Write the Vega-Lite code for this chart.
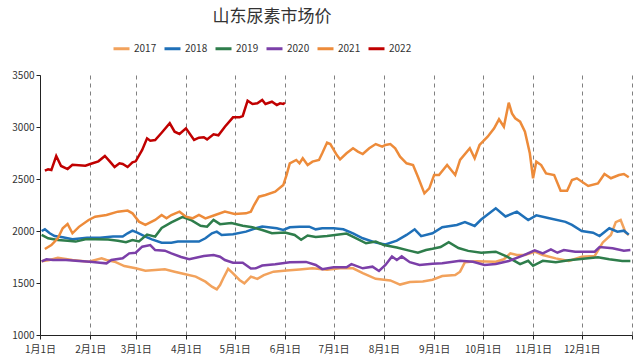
{
"$schema": "https://vega.github.io/schema/vega-lite/v6.json",
"width": 592, "height": 260,
"autosize": {"type": "none"},
"padding": {"left": 40, "top": 75, "right": 8, "bottom": 29},
"background": "white",
"config": {"font": "Noto Sans CJK SC", "view": {"stroke": null}},
"title": {"text": "山东尿素市场价", "anchor": "middle", "frame": "group", "dx": -64, "offset": 13, "fontSize": 17, "fontWeight": "normal", "color": "#333333", "font": "Noto Sans CJK SC"},
"data": {"values": [
{"year":"2017","date":"2022/01/02","price":1710},{"year":"2017","date":"2022/01/07","price":1721},{"year":"2017","date":"2022/01/12","price":1743},{"year":"2017","date":"2022/01/21","price":1721},{"year":"2017","date":"2022/01/31","price":1705},{"year":"2017","date":"2022/02/08","price":1737},{"year":"2017","date":"2022/02/11","price":1721},{"year":"2017","date":"2022/02/16","price":1705},{"year":"2017","date":"2022/02/22","price":1663},{"year":"2017","date":"2022/03/01","price":1641},{"year":"2017","date":"2022/03/07","price":1618},{"year":"2017","date":"2022/03/13","price":1625},{"year":"2017","date":"2022/03/19","price":1631},{"year":"2017","date":"2022/03/25","price":1609},{"year":"2017","date":"2022/03/31","price":1586},{"year":"2017","date":"2022/04/07","price":1561},{"year":"2017","date":"2022/04/13","price":1513},{"year":"2017","date":"2022/04/17","price":1465},{"year":"2017","date":"2022/04/20","price":1439},{"year":"2017","date":"2022/04/22","price":1481},{"year":"2017","date":"2022/04/24","price":1545},{"year":"2017","date":"2022/04/27","price":1636},{"year":"2017","date":"2022/04/30","price":1593},{"year":"2017","date":"2022/05/04","price":1529},{"year":"2017","date":"2022/05/07","price":1497},{"year":"2017","date":"2022/05/11","price":1561},{"year":"2017","date":"2022/05/15","price":1540},{"year":"2017","date":"2022/05/19","price":1575},{"year":"2017","date":"2022/05/25","price":1609},{"year":"2017","date":"2022/06/02","price":1620},{"year":"2017","date":"2022/06/10","price":1630},{"year":"2017","date":"2022/06/18","price":1641},{"year":"2017","date":"2022/06/27","price":1628},{"year":"2017","date":"2022/07/05","price":1641},{"year":"2017","date":"2022/07/13","price":1641},{"year":"2017","date":"2022/07/19","price":1596},{"year":"2017","date":"2022/07/27","price":1540},{"year":"2017","date":"2022/08/05","price":1525},{"year":"2017","date":"2022/08/11","price":1485},{"year":"2017","date":"2022/08/17","price":1510},{"year":"2017","date":"2022/08/25","price":1515},{"year":"2017","date":"2022/08/31","price":1532},{"year":"2017","date":"2022/09/06","price":1567},{"year":"2017","date":"2022/09/14","price":1577},{"year":"2017","date":"2022/09/17","price":1609},{"year":"2017","date":"2022/09/20","price":1700},{"year":"2017","date":"2022/09/27","price":1710},{"year":"2017","date":"2022/10/09","price":1705},{"year":"2017","date":"2022/10/14","price":1728},{"year":"2017","date":"2022/10/18","price":1785},{"year":"2017","date":"2022/10/22","price":1769},{"year":"2017","date":"2022/10/27","price":1769},{"year":"2017","date":"2022/11/02","price":1801},{"year":"2017","date":"2022/11/07","price":1769},{"year":"2017","date":"2022/11/15","price":1737},{"year":"2017","date":"2022/11/23","price":1712},{"year":"2017","date":"2022/12/01","price":1753},{"year":"2017","date":"2022/12/09","price":1760},{"year":"2017","date":"2022/12/14","price":1890},{"year":"2017","date":"2022/12/19","price":1962},{"year":"2017","date":"2022/12/22","price":2085},{"year":"2017","date":"2022/12/25","price":2106},{"year":"2017","date":"2022/12/27","price":2026},{"year":"2017","date":"2022/12/28","price":1985},{"year":"2017","date":"2022/12/30","price":1962},
{"year":"2018","date":"2022/01/02","price":2000},{"year":"2018","date":"2022/01/04","price":2016},{"year":"2018","date":"2022/01/07","price":1978},{"year":"2018","date":"2022/01/10","price":1952},{"year":"2018","date":"2022/01/15","price":1939},{"year":"2018","date":"2022/01/21","price":1920},{"year":"2018","date":"2022/01/30","price":1936},{"year":"2018","date":"2022/02/07","price":1936},{"year":"2018","date":"2022/02/15","price":1946},{"year":"2018","date":"2022/02/21","price":1946},{"year":"2018","date":"2022/02/24","price":1978},{"year":"2018","date":"2022/02/27","price":2003},{"year":"2018","date":"2022/03/02","price":1984},{"year":"2018","date":"2022/03/07","price":1946},{"year":"2018","date":"2022/03/11","price":1920},{"year":"2018","date":"2022/03/17","price":1888},{"year":"2018","date":"2022/03/23","price":1888},{"year":"2018","date":"2022/03/27","price":1898},{"year":"2018","date":"2022/04/09","price":1898},{"year":"2018","date":"2022/04/13","price":1930},{"year":"2018","date":"2022/04/17","price":1978},{"year":"2018","date":"2022/04/20","price":1994},{"year":"2018","date":"2022/04/23","price":1962},{"year":"2018","date":"2022/04/30","price":1968},{"year":"2018","date":"2022/05/08","price":1994},{"year":"2018","date":"2022/05/14","price":2026},{"year":"2018","date":"2022/05/18","price":2042},{"year":"2018","date":"2022/05/27","price":2026},{"year":"2018","date":"2022/05/31","price":2010},{"year":"2018","date":"2022/06/04","price":2036},{"year":"2018","date":"2022/06/10","price":2042},{"year":"2018","date":"2022/06/16","price":2042},{"year":"2018","date":"2022/06/20","price":2016},{"year":"2018","date":"2022/06/24","price":2026},{"year":"2018","date":"2022/07/01","price":2026},{"year":"2018","date":"2022/07/07","price":2016},{"year":"2018","date":"2022/07/13","price":1978},{"year":"2018","date":"2022/07/19","price":1930},{"year":"2018","date":"2022/07/27","price":1888},{"year":"2018","date":"2022/08/02","price":1870},{"year":"2018","date":"2022/08/09","price":1907},{"year":"2018","date":"2022/08/15","price":1962},{"year":"2018","date":"2022/08/20","price":2016},{"year":"2018","date":"2022/08/24","price":1950},{"year":"2018","date":"2022/08/31","price":1978},{"year":"2018","date":"2022/09/06","price":2036},{"year":"2018","date":"2022/09/15","price":2058},{"year":"2018","date":"2022/09/20","price":2085},{"year":"2018","date":"2022/09/26","price":2048},{"year":"2018","date":"2022/09/30","price":2110},{"year":"2018","date":"2022/10/09","price":2218},{"year":"2018","date":"2022/10/15","price":2140},{"year":"2018","date":"2022/10/22","price":2186},{"year":"2018","date":"2022/10/29","price":2106},{"year":"2018","date":"2022/11/03","price":2150},{"year":"2018","date":"2022/11/11","price":2122},{"year":"2018","date":"2022/11/21","price":2088},{"year":"2018","date":"2022/11/25","price":2058},{"year":"2018","date":"2022/12/01","price":2000},{"year":"2018","date":"2022/12/08","price":1984},{"year":"2018","date":"2022/12/12","price":1952},{"year":"2018","date":"2022/12/18","price":2026},{"year":"2018","date":"2022/12/23","price":1994},{"year":"2018","date":"2022/12/27","price":2003},{"year":"2018","date":"2022/12/30","price":1965},
{"year":"2019","date":"2022/01/02","price":1962},{"year":"2019","date":"2022/01/06","price":1930},{"year":"2019","date":"2022/01/12","price":1913},{"year":"2019","date":"2022/01/18","price":1907},{"year":"2019","date":"2022/01/23","price":1898},{"year":"2019","date":"2022/01/29","price":1920},{"year":"2019","date":"2022/02/04","price":1920},{"year":"2019","date":"2022/02/12","price":1918},{"year":"2019","date":"2022/02/18","price":1907},{"year":"2019","date":"2022/02/23","price":1893},{"year":"2019","date":"2022/02/27","price":1913},{"year":"2019","date":"2022/03/03","price":1900},{"year":"2019","date":"2022/03/08","price":1965},{"year":"2019","date":"2022/03/13","price":1946},{"year":"2019","date":"2022/03/17","price":2030},{"year":"2019","date":"2022/03/23","price":2082},{"year":"2019","date":"2022/03/30","price":2135},{"year":"2019","date":"2022/04/04","price":2106},{"year":"2019","date":"2022/04/10","price":2050},{"year":"2019","date":"2022/04/14","price":2042},{"year":"2019","date":"2022/04/18","price":2106},{"year":"2019","date":"2022/04/22","price":2066},{"year":"2019","date":"2022/04/29","price":2077},{"year":"2019","date":"2022/05/06","price":2050},{"year":"2019","date":"2022/05/12","price":2036},{"year":"2019","date":"2022/05/18","price":2010},{"year":"2019","date":"2022/05/24","price":1978},{"year":"2019","date":"2022/06/01","price":1986},{"year":"2019","date":"2022/06/07","price":1962},{"year":"2019","date":"2022/06/11","price":1916},{"year":"2019","date":"2022/06/15","price":1957},{"year":"2019","date":"2022/06/20","price":1942},{"year":"2019","date":"2022/06/27","price":1952},{"year":"2019","date":"2022/07/09","price":1975},{"year":"2019","date":"2022/07/15","price":1930},{"year":"2019","date":"2022/07/21","price":1882},{"year":"2019","date":"2022/07/27","price":1898},{"year":"2019","date":"2022/08/01","price":1865},{"year":"2019","date":"2022/08/09","price":1842},{"year":"2019","date":"2022/08/16","price":1814},{"year":"2019","date":"2022/08/22","price":1791},{"year":"2019","date":"2022/08/27","price":1817},{"year":"2019","date":"2022/08/31","price":1829},{"year":"2019","date":"2022/09/05","price":1846},{"year":"2019","date":"2022/09/10","price":1893},{"year":"2019","date":"2022/09/16","price":1836},{"year":"2019","date":"2022/09/22","price":1809},{"year":"2019","date":"2022/09/30","price":1791},{"year":"2019","date":"2022/10/09","price":1801},{"year":"2019","date":"2022/10/16","price":1753},{"year":"2019","date":"2022/10/24","price":1681},{"year":"2019","date":"2022/10/29","price":1713},{"year":"2019","date":"2022/11/01","price":1665},{"year":"2019","date":"2022/11/07","price":1713},{"year":"2019","date":"2022/11/15","price":1700},{"year":"2019","date":"2022/11/23","price":1718},{"year":"2019","date":"2022/12/02","price":1733},{"year":"2019","date":"2022/12/11","price":1747},{"year":"2019","date":"2022/12/18","price":1728},{"year":"2019","date":"2022/12/26","price":1712},{"year":"2019","date":"2022/12/31","price":1712},
{"year":"2020","date":"2022/01/02","price":1708},{"year":"2020","date":"2022/01/05","price":1728},{"year":"2020","date":"2022/01/09","price":1721},{"year":"2020","date":"2022/01/17","price":1721},{"year":"2020","date":"2022/01/25","price":1712},{"year":"2020","date":"2022/02/01","price":1705},{"year":"2020","date":"2022/02/07","price":1695},{"year":"2020","date":"2022/02/11","price":1689},{"year":"2020","date":"2022/02/14","price":1721},{"year":"2020","date":"2022/02/21","price":1737},{"year":"2020","date":"2022/02/25","price":1785},{"year":"2020","date":"2022/03/01","price":1791},{"year":"2020","date":"2022/03/05","price":1849},{"year":"2020","date":"2022/03/10","price":1865},{"year":"2020","date":"2022/03/13","price":1817},{"year":"2020","date":"2022/03/19","price":1811},{"year":"2020","date":"2022/03/23","price":1785},{"year":"2020","date":"2022/03/29","price":1750},{"year":"2020","date":"2022/04/03","price":1728},{"year":"2020","date":"2022/04/12","price":1760},{"year":"2020","date":"2022/04/18","price":1769},{"year":"2020","date":"2022/04/22","price":1753},{"year":"2020","date":"2022/04/25","price":1721},{"year":"2020","date":"2022/04/30","price":1695},{"year":"2020","date":"2022/05/06","price":1695},{"year":"2020","date":"2022/05/11","price":1640},{"year":"2020","date":"2022/05/14","price":1641},{"year":"2020","date":"2022/05/18","price":1668},{"year":"2020","date":"2022/05/26","price":1681},{"year":"2020","date":"2022/06/04","price":1700},{"year":"2020","date":"2022/06/14","price":1703},{"year":"2020","date":"2022/06/20","price":1673},{"year":"2020","date":"2022/06/24","price":1633},{"year":"2020","date":"2022/07/01","price":1651},{"year":"2020","date":"2022/07/09","price":1651},{"year":"2020","date":"2022/07/12","price":1681},{"year":"2020","date":"2022/07/19","price":1641},{"year":"2020","date":"2022/07/25","price":1657},{"year":"2020","date":"2022/07/29","price":1616},{"year":"2020","date":"2022/08/02","price":1673},{"year":"2020","date":"2022/08/06","price":1756},{"year":"2020","date":"2022/08/09","price":1721},{"year":"2020","date":"2022/08/12","price":1756},{"year":"2020","date":"2022/08/17","price":1700},{"year":"2020","date":"2022/08/23","price":1673},{"year":"2020","date":"2022/08/31","price":1685},{"year":"2020","date":"2022/09/06","price":1689},{"year":"2020","date":"2022/09/17","price":1714},{"year":"2020","date":"2022/09/25","price":1705},{"year":"2020","date":"2022/10/02","price":1673},{"year":"2020","date":"2022/10/09","price":1683},{"year":"2020","date":"2022/10/17","price":1712},{"year":"2020","date":"2022/10/26","price":1765},{"year":"2020","date":"2022/11/02","price":1814},{"year":"2020","date":"2022/11/07","price":1785},{"year":"2020","date":"2022/11/12","price":1824},{"year":"2020","date":"2022/11/16","price":1791},{"year":"2020","date":"2022/11/20","price":1817},{"year":"2020","date":"2022/11/27","price":1801},{"year":"2020","date":"2022/12/09","price":1801},{"year":"2020","date":"2022/12/12","price":1846},{"year":"2020","date":"2022/12/20","price":1834},{"year":"2020","date":"2022/12/27","price":1811},{"year":"2020","date":"2022/12/31","price":1817},
{"year":"2021","date":"2022/01/04","price":1827},{"year":"2021","date":"2022/01/08","price":1865},{"year":"2021","date":"2022/01/12","price":1930},{"year":"2021","date":"2022/01/15","price":2026},{"year":"2021","date":"2022/01/18","price":2067},{"year":"2021","date":"2022/01/21","price":1978},{"year":"2021","date":"2022/01/25","price":2040},{"year":"2021","date":"2022/01/31","price":2106},{"year":"2021","date":"2022/02/04","price":2138},{"year":"2021","date":"2022/02/11","price":2154},{"year":"2021","date":"2022/02/18","price":2186},{"year":"2021","date":"2022/02/24","price":2196},{"year":"2021","date":"2022/02/27","price":2170},{"year":"2021","date":"2022/03/03","price":2090},{"year":"2021","date":"2022/03/07","price":2058},{"year":"2021","date":"2022/03/13","price":2106},{"year":"2021","date":"2022/03/17","price":2154},{"year":"2021","date":"2022/03/20","price":2122},{"year":"2021","date":"2022/03/23","price":2154},{"year":"2021","date":"2022/03/28","price":2186},{"year":"2021","date":"2022/04/01","price":2138},{"year":"2021","date":"2022/04/05","price":2122},{"year":"2021","date":"2022/04/09","price":2154},{"year":"2021","date":"2022/04/13","price":2122},{"year":"2021","date":"2022/04/19","price":2154},{"year":"2021","date":"2022/04/25","price":2186},{"year":"2021","date":"2022/05/01","price":2163},{"year":"2021","date":"2022/05/08","price":2170},{"year":"2021","date":"2022/05/11","price":2186},{"year":"2021","date":"2022/05/13","price":2250},{"year":"2021","date":"2022/05/16","price":2330},{"year":"2021","date":"2022/05/20","price":2346},{"year":"2021","date":"2022/05/26","price":2378},{"year":"2021","date":"2022/05/31","price":2442},{"year":"2021","date":"2022/06/02","price":2538},{"year":"2021","date":"2022/06/04","price":2651},{"year":"2021","date":"2022/06/08","price":2683},{"year":"2021","date":"2022/06/10","price":2651},{"year":"2021","date":"2022/06/12","price":2699},{"year":"2021","date":"2022/06/15","price":2634},{"year":"2021","date":"2022/06/18","price":2667},{"year":"2021","date":"2022/06/22","price":2683},{"year":"2021","date":"2022/06/24","price":2747},{"year":"2021","date":"2022/06/27","price":2850},{"year":"2021","date":"2022/06/29","price":2836},{"year":"2021","date":"2022/07/03","price":2730},{"year":"2021","date":"2022/07/05","price":2689},{"year":"2021","date":"2022/07/09","price":2747},{"year":"2021","date":"2022/07/13","price":2795},{"year":"2021","date":"2022/07/16","price":2763},{"year":"2021","date":"2022/07/19","price":2740},{"year":"2021","date":"2022/07/23","price":2795},{"year":"2021","date":"2022/07/27","price":2836},{"year":"2021","date":"2022/07/31","price":2811},{"year":"2021","date":"2022/08/02","price":2827},{"year":"2021","date":"2022/08/05","price":2836},{"year":"2021","date":"2022/08/08","price":2795},{"year":"2021","date":"2022/08/11","price":2715},{"year":"2021","date":"2022/08/15","price":2651},{"year":"2021","date":"2022/08/19","price":2634},{"year":"2021","date":"2022/08/22","price":2522},{"year":"2021","date":"2022/08/26","price":2362},{"year":"2021","date":"2022/08/29","price":2410},{"year":"2021","date":"2022/09/01","price":2538},{"year":"2021","date":"2022/09/04","price":2538},{"year":"2021","date":"2022/09/09","price":2634},{"year":"2021","date":"2022/09/14","price":2538},{"year":"2021","date":"2022/09/17","price":2683},{"year":"2021","date":"2022/09/23","price":2795},{"year":"2021","date":"2022/09/26","price":2699},{"year":"2021","date":"2022/09/29","price":2827},{"year":"2021","date":"2022/10/04","price":2907},{"year":"2021","date":"2022/10/08","price":2987},{"year":"2021","date":"2022/10/11","price":3074},{"year":"2021","date":"2022/10/14","price":3003},{"year":"2021","date":"2022/10/17","price":3234},{"year":"2021","date":"2022/10/19","price":3131},{"year":"2021","date":"2022/10/21","price":3084},{"year":"2021","date":"2022/10/24","price":3051},{"year":"2021","date":"2022/10/27","price":2955},{"year":"2021","date":"2022/10/30","price":2747},{"year":"2021","date":"2022/11/01","price":2507},{"year":"2021","date":"2022/11/03","price":2667},{"year":"2021","date":"2022/11/06","price":2634},{"year":"2021","date":"2022/11/09","price":2554},{"year":"2021","date":"2022/11/14","price":2538},{"year":"2021","date":"2022/11/18","price":2387},{"year":"2021","date":"2022/11/22","price":2387},{"year":"2021","date":"2022/11/25","price":2490},{"year":"2021","date":"2022/11/28","price":2507},{"year":"2021","date":"2022/12/05","price":2433},{"year":"2021","date":"2022/12/11","price":2458},{"year":"2021","date":"2022/12/15","price":2548},{"year":"2021","date":"2022/12/19","price":2507},{"year":"2021","date":"2022/12/24","price":2538},{"year":"2021","date":"2022/12/27","price":2548},{"year":"2021","date":"2022/12/30","price":2516},
{"year":"2022","date":"2022/01/04","price":2580},{"year":"2022","date":"2022/01/06","price":2593},{"year":"2022","date":"2022/01/08","price":2586},{"year":"2022","date":"2022/01/11","price":2721},{"year":"2022","date":"2022/01/14","price":2625},{"year":"2022","date":"2022/01/18","price":2596},{"year":"2022","date":"2022/01/21","price":2637},{"year":"2022","date":"2022/01/29","price":2628},{"year":"2022","date":"2022/02/01","price":2644},{"year":"2022","date":"2022/02/06","price":2670},{"year":"2022","date":"2022/02/10","price":2721},{"year":"2022","date":"2022/02/13","price":2670},{"year":"2022","date":"2022/02/16","price":2615},{"year":"2022","date":"2022/02/19","price":2651},{"year":"2022","date":"2022/02/21","price":2644},{"year":"2022","date":"2022/02/24","price":2615},{"year":"2022","date":"2022/02/27","price":2660},{"year":"2022","date":"2022/03/01","price":2670},{"year":"2022","date":"2022/03/05","price":2779},{"year":"2022","date":"2022/03/08","price":2891},{"year":"2022","date":"2022/03/10","price":2868},{"year":"2022","date":"2022/03/13","price":2875},{"year":"2022","date":"2022/03/17","price":2945},{"year":"2022","date":"2022/03/22","price":3036},{"year":"2022","date":"2022/03/25","price":2955},{"year":"2022","date":"2022/03/28","price":2933},{"year":"2022","date":"2022/04/01","price":2987},{"year":"2022","date":"2022/04/06","price":2875},{"year":"2022","date":"2022/04/09","price":2897},{"year":"2022","date":"2022/04/12","price":2901},{"year":"2022","date":"2022/04/14","price":2881},{"year":"2022","date":"2022/04/18","price":2930},{"year":"2022","date":"2022/04/21","price":2920},{"year":"2022","date":"2022/04/25","price":3003},{"year":"2022","date":"2022/04/30","price":3093},{"year":"2022","date":"2022/05/04","price":3093},{"year":"2022","date":"2022/05/06","price":3106},{"year":"2022","date":"2022/05/09","price":3253},{"year":"2022","date":"2022/05/12","price":3221},{"year":"2022","date":"2022/05/15","price":3228},{"year":"2022","date":"2022/05/18","price":3260},{"year":"2022","date":"2022/05/20","price":3221},{"year":"2022","date":"2022/05/24","price":3243},{"year":"2022","date":"2022/05/27","price":3211},{"year":"2022","date":"2022/05/29","price":3228},{"year":"2022","date":"2022/05/31","price":3221},{"year":"2022","date":"2022/06/01","price":3234}
]},
"mark": {"type": "line", "strokeWidth": 2.5, "interpolate": "linear"},
"encoding": {
  "x": {"field": "date", "type": "temporal",
    "scale": {"domain": [{"year": 2022, "month": 1, "date": 1}, {"year": 2023, "month": 1, "date": 1}]},
    "axis": {"title": null, "tickCount": {"interval": "month", "step": 1}, "labelExpr": "year(datum.value) > 2022 ? '' : timeFormat(datum.value, '%-m月%-d日')", "labelOverlap": false, "labelFlush": false, "labelFontSize": 10, "labelColor": "#333333", "labelPadding": 5, "grid": true, "gridDash": [4, 4], "gridColor": "#808080", "gridWidth": 1, "domainColor": "#222222", "tickColor": "#222222", "tickSize": 4}},
  "y": {"field": "price", "type": "quantitative",
    "scale": {"domain": [1000, 3500], "nice": false, "zero": false},
    "axis": {"title": null, "values": [1000, 1500, 2000, 2500, 3000, 3500], "format": "d", "grid": false, "labelFontSize": 10, "labelColor": "#333333", "domainColor": "#222222", "tickColor": "#222222", "tickSize": 4, "zindex": 1}},
  "color": {"field": "year", "type": "nominal",
    "scale": {"domain": ["2017", "2018", "2019", "2020", "2021", "2022"], "range": ["#F2A25C", "#1F70B8", "#2E7D4B", "#7B3FA8", "#ED8B3A", "#C00000"]},
    "legend": {"title": null, "orient": "none", "legendX": 72, "legendY": -36, "direction": "horizontal", "columns": 6, "symbolType": "stroke", "symbolStrokeWidth": 3, "symbolSize": 256, "labelFontSize": 10, "labelColor": "#333333", "columnPadding": 1, "labelOffset": 3}}
}
}
